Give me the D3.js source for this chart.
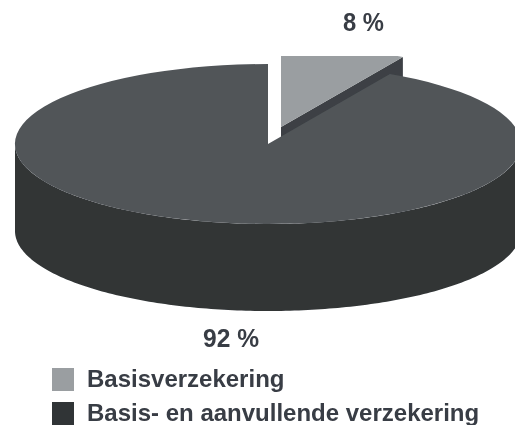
<!DOCTYPE html>
<html>
<head>
<meta charset="utf-8">
<script src="https://cdn.jsdelivr.net/npm/d3@7"></script>
<style>
  html, body { margin: 0; padding: 0; background: #fff; overflow: hidden; }
  text { font-family: "Liberation Sans", Arial, sans-serif; font-weight: bold; fill: #383c44; }
</style>
</head>
<body>
<svg id="chart" width="515" height="425"></svg>
<script>
var categories = ["Basisverzekering", "Basis- en aanvullende verzekering"];
var values = [8, 92];
var valueLabels = ["8 %", "92 %"];

var topColors = ["#9a9ea1", "#515559"];
var wallColor = "#303436";
var cutColor = "#3c4044";
var legendColors = ["#9a9ea1", "#303436"];

var svg = d3.select("#chart");

var rx = 253, ry = 80, depth = 87;
var center = { x: 268, y: 144 };
var exploded = { x: 281, y: 127 };   // small slice is pulled out up and right
var flatTop = 56;                    // the source cuts the small slice off flat here

var pie = d3.pie().sort(null).value(function(d){return d;});
var slices = pie(values);

var arc = d3.arc().innerRadius(0).outerRadius(1);

var defs = svg.append("defs");

defs.append("filter").attr("id","soft")
   .append("feGaussianBlur").attr("stdDeviation",0.45);

defs.append("filter").attr("id","softText")
   .append("feGaussianBlur").attr("stdDeviation",0.35);

defs.append("clipPath").attr("id","cutTop")
   .append("rect")
   .attr("x",0)
   .attr("y",flatTop)
   .attr("width",515)
   .attr("height",425-flatTop);

var ex = function(c,a){return c.x+rx*Math.sin(a);}
var ey = function(c,a){return c.y-ry*Math.cos(a);}

var pieG = svg.append("g").attr("filter","url(#soft)");

// small slice: cut face first, then its top
var small = slices[0];
var cutFace = d3.line()([
  [exploded.x, exploded.y],
  [ex(exploded,small.endAngle), ey(exploded,small.endAngle)],
  [ex(exploded,small.endAngle), ey(exploded,small.endAngle)+depth],
  [exploded.x, exploded.y+depth]
])+"Z";

var smallG = pieG.append("g").attr("clip-path","url(#cutTop)");

smallG.append("path")
   .attr("d",cutFace)
   .attr("fill",cutColor);

smallG.append("path")
   .attr("d",arc(small))
   .attr("transform","translate("+exploded.x+","+exploded.y+") scale("+rx+","+ry+")")
   .attr("fill",topColors[0]);

// front wall of the big slice
var wallAngles = d3.range(90,270.5,1).map(function(d){return d*Math.PI/180;});
var wall = d3.area()
   .x(function(a){return ex(center,a);})
   .y0(function(a){return ey(center,a);})
   .y1(function(a){return ey(center,a)+depth;});

pieG.append("path")
   .attr("d",wall(wallAngles))
   .attr("fill",wallColor);

pieG.append("path")
   .attr("d",arc(slices[1]))
   .attr("transform","translate("+center.x+","+center.y+") scale("+rx+","+ry+")")
   .attr("fill",topColors[1]);

var textG = svg.append("g").attr("filter","url(#softText)");

// value labels
textG.append("text")
   .attr("x",343).attr("y",31)
   .attr("font-size",26)
   .attr("textLength",41)
   .attr("lengthAdjust","spacingAndGlyphs")
   .text(valueLabels[0]);

textG.append("text")
   .attr("x",203).attr("y",347)
   .attr("font-size",26)
   .attr("textLength",56)
   .attr("lengthAdjust","spacingAndGlyphs")
   .text(valueLabels[1]);

// legend
var legendY = d3.scalePoint().domain(categories).range([368,402]);

var legend = svg.selectAll(".legend")
   .data(categories)
   .enter()
   .append("g")
   .attr("class","legend")
   .attr("transform",function(d){return "translate(52,"+legendY(d)+")";});

legend.append("rect")
   .attr("width",22)
   .attr("height",23)
   .attr("fill",function(d,i){return legendColors[i];});

textG.selectAll(".legendLabel")
   .data(categories)
   .enter()
   .append("text")
   .attr("class","legendLabel")
   .attr("x",87)
   .attr("y",function(d){return legendY(d)+19;})
   .attr("font-size",24)
   .text(function(d){return d;});
</script>
</body>
</html>
